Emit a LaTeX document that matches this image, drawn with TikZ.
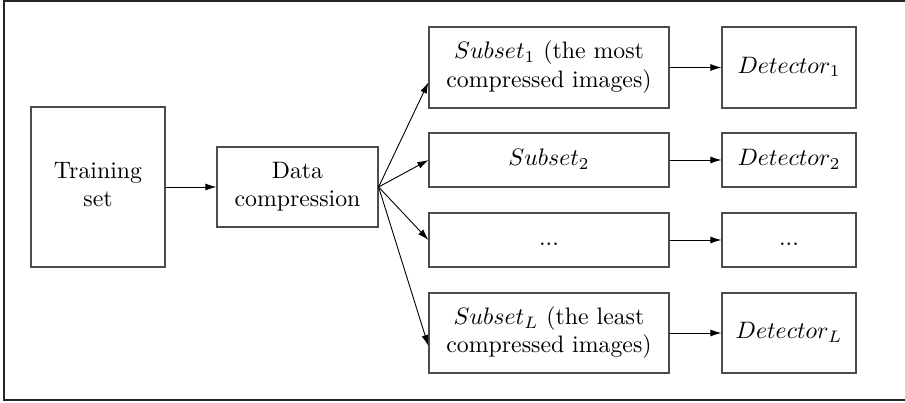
\documentclass[tikz,border=0pt]{standalone}
\usepackage{graphicx}
\usetikzlibrary{arrows.meta,calc}
\newcommand{\bxt}[1]{\scalebox{2.38}{\begin{tabular}{@{}c@{}}#1\end{tabular}}}
\begin{document}
\begin{tikzpicture}[x=1pt,y=-1pt,
  box/.style={draw=black!70,line width=1.2pt,inner sep=0pt,align=center},
  arr/.style={draw=black,line width=0.9pt,-{Latex[length=11pt,width=7pt]}},
  frame/.style={draw=black!85,line width=1.6pt}]
\useasboundingbox (0,0) rectangle (905,403);
\draw[frame] (910,1) -- (4,1) -- (4,400) -- (910,400);
\node[box,minimum width=134pt,minimum height=160pt] (train) at (98,187) {\bxt{Training\\set}};
\node[box,minimum width=161pt,minimum height=80pt] (comp) at (297.5,187) {\bxt{Data\\compression}};
\node[box,minimum width=240pt,minimum height=81pt] (s1) at (549,67.5) {\bxt{$Subset_1$ (the most\\compressed images)}};
\node[box,minimum width=240pt,minimum height=54pt] (s2) at (549,160) {\bxt{$Subset_2$}};
\node[box,minimum width=240pt,minimum height=54pt] (s3) at (549,240) {\bxt{...}};
\node[box,minimum width=240pt,minimum height=80pt] (sL) at (549,333) {\bxt{$Subset_L$ (the least\\compressed images)}};
\node[box,minimum width=134pt,minimum height=81pt] (d1) at (789,67.5) {\bxt{$Detector_1$}};
\node[box,minimum width=134pt,minimum height=54pt] (d2) at (789,160) {\bxt{$Detector_2$}};
\node[box,minimum width=134pt,minimum height=54pt] (d3) at (789,240) {\bxt{...}};
\node[box,minimum width=134pt,minimum height=80pt] (dL) at (789,333) {\bxt{$Detector_L$}};
\coordinate (e1) at ($(s1.south west)!0.32!(s1.north west)$);
\coordinate (eL) at ($(sL.south west)!0.34!(sL.north west)$);
\draw[arr] (train) -- (comp);
\draw[arr] (comp.east) -- (e1);
\draw[arr] (comp.east) -- (s2.west);
\draw[arr] (comp.east) -- (s3.west);
\draw[arr] (comp.east) -- (eL);
\draw[arr] (s1) -- (d1);
\draw[arr] (s2) -- (d2);
\draw[arr] (s3) -- (d3);
\draw[arr] (sL) -- (dL);
\end{tikzpicture}
\end{document}
